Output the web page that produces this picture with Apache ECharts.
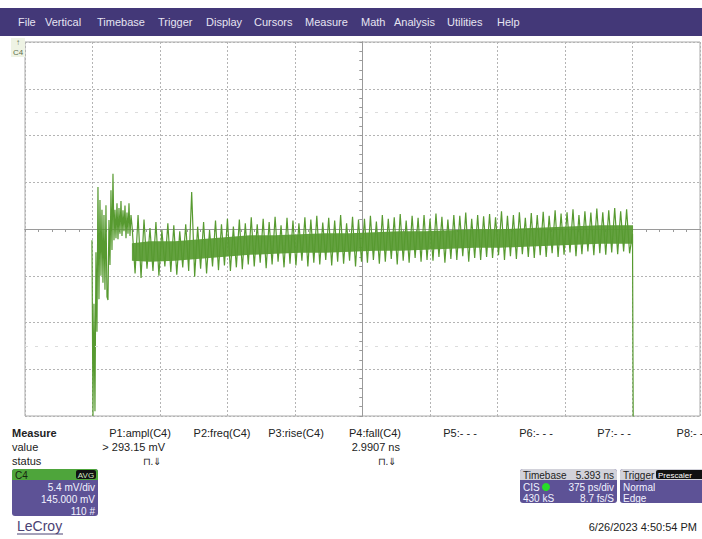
<!DOCTYPE html>
<html>
<head>
<meta charset="utf-8">
<title>LeCroy C4</title>
<script src="https://cdn.jsdelivr.net/npm/echarts@6/dist/echarts.min.js"></script>
<style>
  html, body { margin: 0; padding: 0; background: #fff; }
  #scope { width: 702px; height: 539px; }
</style>
</head>
<body>
<div id="scope"></div>
<script>
// menu bar
const menuItems = ['File', 'Vertical', 'Timebase', 'Trigger', 'Display', 'Cursors', 'Measure', 'Math', 'Analysis', 'Utilities', 'Help'];
const menuX = [18, 45, 97, 158, 206, 254, 305, 361, 394, 447, 497];

// measurement table
const measureCols = ['P1:ampl(C4)', 'P2:freq(C4)', 'P3:rise(C4)', 'P4:fall(C4)', 'P5:- - -', 'P6:- - -', 'P7:- - -', 'P8:- -'];
const measureColX = [140, 222, 296, 375, 460, 536, 614, 690];
const measureValues = ['> 293.15 mV', '', '', '2.9907 ns', '', '', '', ''];

// time in ps from screen centre (375 ps/div), level in divisions (5.4 mV/div)
// start-up transient, one sample per ~5.56 ps
const transientStart = -1503;
const transientStep = 5.56;
const transient = [-0.24, -4.0, -1.6, -3.9, -0.5, -2.2, 0.9, -1.5, 0.62, -1.0,
  0.41, -1.15, 0.3, -1.3, 0.51, -1.45, -1.52, 0.19, -0.77, 0.83,
  -0.45, 1.18, -0.24, 0.41, -0.2, 0.55, -0.22, 0.45, -0.1, 0.6,
  -0.15, 0.4, -0.05, 0.5, -0.2, 0.35, -0.1, 0.55, -0.15, 0.3];

// ringing part: one peak and one trough per period
const ringStart = -1280;
const ringPeriod = 33.1;
const peaks = [0.05, 0.30, 0.20, 0.02, 0.15, -0.02, 0.12, 0.08, -0.05, 0.10,
  0.79,
  0.05, 0.15, -0.02, 0.18, 0.10, 0.22, 0.05, 0.20, 0.12,
  0.25, 0.10, 0.22, 0.15, 0.26, 0.08, 0.24, 0.18, 0.12, 0.25,
  0.20, 0.28, 0.14, 0.24, 0.18, 0.30, 0.12, 0.26, 0.20, 0.22,
  0.28, 0.16, 0.30, 0.22, 0.25, 0.32, 0.18, 0.28, 0.24, 0.30,
  0.22, 0.33, 0.26, 0.20, 0.30, 0.28, 0.35, 0.22, 0.30, 0.27,
  0.32, 0.25, 0.38, 0.28, 0.30, 0.36, 0.24, 0.34, 0.30, 0.37,
  0.28, 0.40, 0.33, 0.36, 0.42, 0.30, 0.38, 0.35, 0.44, 0.36,
  0.40, 0.45, 0.38, 0.42];
const troughs = [-0.95, -1.05, -0.85, -0.90, -1.00, -0.80, -0.92, -0.98, -0.82, -0.90,
  -1.02,
  -0.85, -0.95, -0.80, -0.88, -0.78, -0.90, -0.82, -0.86, -0.76,
  -0.80, -0.72, -0.84, -0.76, -0.70, -0.82, -0.74, -0.78, -0.68, -0.80,
  -0.72, -0.76, -0.66, -0.78, -0.70, -0.74, -0.68, -0.80, -0.70, -0.72,
  -0.66, -0.74, -0.70, -0.64, -0.76, -0.68, -0.72, -0.62, -0.70, -0.66,
  -0.68, -0.60, -0.72, -0.64, -0.66, -0.58, -0.70, -0.62, -0.66, -0.60,
  -0.62, -0.56, -0.66, -0.58, -0.64, -0.54, -0.60, -0.62, -0.56, -0.60,
  -0.52, -0.60, -0.55, -0.50, -0.58, -0.54, -0.48, -0.56, -0.52, -0.55,
  -0.50, -0.54, -0.48, -0.52];
const endDrop = [[1500, -0.1], [1504, -4.2]];

// dense core of the trace band
const coreTimes = [-1281, -1181, -1042, -903, -764, -625, -486, -347, -208, -69, 69,
  208, 347, 486, 625, 764, 903, 1042, 1181, 1319, 1458, 1503];
const coreTop = [-0.305, -0.263, -0.263, -0.22, -0.177, -0.134, -0.134, -0.113, -0.091, -0.091, -0.07,
  -0.049, -0.049, -0.027, -0.006, -0.006, 0.016, 0.037, 0.058, 0.08, 0.08, 0.08];
const coreBottom = [-0.68, -0.70, -0.68, -0.637, -0.594, -0.552, -0.53, -0.51, -0.51, -0.488, -0.466,
  -0.466, -0.445, -0.423, -0.40, -0.40, -0.38, -0.36, -0.338, -0.316, -0.316, -0.316];

const traceColor = '#579a30';
const boxPurple = '#5d5296';
const font = '"Liberation Sans", Arial, sans-serif';

// trace points
let trace = [];
transient.forEach((v, i) => trace.push([transientStart + i * transientStep, v]));
peaks.forEach((p, i) => {
  trace.push([ringStart + i * ringPeriod, p]);
  trace.push([ringStart + i * ringPeriod + ringPeriod / 2, troughs[i]]);
});
trace = trace.concat(endDrop);

function txt(x, y, text, opt) {
  return {
    type: 'text', x: x, y: y, silent: true,
    style: Object.assign({
      text: text, font: '11px ' + font, fill: '#222',
      textAlign: 'left', textVerticalAlign: 'middle'
    }, opt || {})
  };
}

let graphics = [];
// menu bar
graphics.push({ type: 'rect', shape: { x: 0, y: 8, width: 702, height: 28 }, style: { fill: '#433878' } });
menuItems.forEach((m, i) => graphics.push(txt(menuX[i], 22, m, { fill: '#e6e4f2' })));

// channel marker
graphics.push({ type: 'rect', shape: { x: 11, y: 38, width: 14, height: 19 }, style: { fill: '#eef3e4' } });
graphics.push(txt(18, 42.5, '↑', { fill: '#5d6f4d', font: '8px ' + font, textAlign: 'center' }));
graphics.push(txt(18, 52, 'C4', { fill: '#5d6f4d', font: '8px ' + font, textAlign: 'center' }));

// measure table
graphics.push(txt(12, 433, 'Measure', { font: 'bold 11px ' + font }));
graphics.push(txt(12, 447, 'value'));
graphics.push(txt(12, 461, 'status'));
measureCols.forEach((c, i) => {
  graphics.push(txt(measureColX[i], 433, c, { textAlign: 'center' }));
  if (measureValues[i]) {
    graphics.push(txt(measureColX[i] + 25, 447, measureValues[i], { textAlign: 'right' }));
    graphics.push(txt(measureColX[i] + 12, 461, '⊓.⇓', { textAlign: 'center', font: '10px ' + font }));
  }
});

// C4 box
graphics.push({ type: 'rect', shape: { x: 12, y: 469, width: 86, height: 47, r: 3 }, style: { fill: boxPurple } });
graphics.push({ type: 'rect', shape: { x: 12, y: 469, width: 86, height: 11, r: [3, 3, 0, 0] }, style: { fill: '#4ea53b' } });
graphics.push(txt(15, 475, 'C4', { fill: '#16260e', font: '10px ' + font }));
graphics.push({ type: 'rect', shape: { x: 76, y: 470, width: 20, height: 9, r: 2 }, style: { fill: '#111' } });
graphics.push(txt(86, 475, 'AVG', { fill: '#cfe8c0', font: '8px ' + font, textAlign: 'center' }));
graphics.push(txt(95, 487, '5.4 mV/div', { fill: '#f2f2ff', font: '10px ' + font, textAlign: 'right' }));
graphics.push(txt(95, 499, '145.000 mV', { fill: '#f2f2ff', font: '10px ' + font, textAlign: 'right' }));
graphics.push(txt(95, 511, '110 #', { fill: '#f2f2ff', font: '10px ' + font, textAlign: 'right' }));

// Timebase box
graphics.push({ type: 'rect', shape: { x: 520, y: 469, width: 97, height: 34, r: 3 }, style: { fill: boxPurple } });
graphics.push({ type: 'rect', shape: { x: 520, y: 469, width: 97, height: 11, r: [3, 3, 0, 0] }, style: { fill: '#d2d2da' } });
graphics.push(txt(523, 475, 'Timebase', { font: '10px ' + font }));
graphics.push(txt(614, 475, '5.393 ns', { font: '10px ' + font, textAlign: 'right' }));
graphics.push(txt(523, 487, 'CIS', { fill: '#f2f2ff', font: '10px ' + font }));
graphics.push({ type: 'circle', shape: { cx: 546, cy: 487, r: 4 }, style: { fill: '#28dd28' } });
graphics.push(txt(614, 487, '375 ps/div', { fill: '#f2f2ff', font: '10px ' + font, textAlign: 'right' }));
graphics.push(txt(523, 498, '430 kS', { fill: '#f2f2ff', font: '10px ' + font }));
graphics.push(txt(614, 498, '8.7 fs/S', { fill: '#f2f2ff', font: '10px ' + font, textAlign: 'right' }));

// Trigger box
graphics.push({ type: 'rect', shape: { x: 620, y: 469, width: 86, height: 34, r: 3 }, style: { fill: boxPurple } });
graphics.push({ type: 'rect', shape: { x: 620, y: 469, width: 86, height: 11, r: [3, 3, 0, 0] }, style: { fill: '#d2d2da' } });
graphics.push(txt(623, 475, 'Trigger', { font: '10px ' + font }));
graphics.push({ type: 'rect', shape: { x: 656, y: 470, width: 48, height: 9, r: 2 }, style: { fill: '#111' } });
graphics.push(txt(658, 475, 'Prescaler', { fill: '#fff', font: '8px ' + font }));
graphics.push(txt(623, 487, 'Normal', { fill: '#f2f2ff', font: '10px ' + font }));
graphics.push(txt(623, 498, 'Edge', { fill: '#f2f2ff', font: '10px ' + font }));

// logo + date
graphics.push(txt(17, 526, 'LeCroy', { fill: '#4a4274', font: '14px ' + font }));
graphics.push({ type: 'line', shape: { x1: 17, y1: 534, x2: 63, y2: 534 }, style: { stroke: '#4a4274', lineWidth: 1 } });
graphics.push(txt(697, 527, '6/26/2023 4:50:54 PM', { textAlign: 'right' }));

const gridLine = { show: true, lineStyle: { color: '#b4b4b4', type: [2, 2], width: 1 } };
const centreAxis = (inside) => ({
  axisLine: { show: true, onZero: true, lineStyle: { color: '#9a9a9a', width: 1 } },
  axisTick: { show: true, inside: inside, length: 3, lineStyle: { color: '#9a9a9a' } },
  minorTick: { show: true, splitNumber: 5, length: 3, lineStyle: { color: '#9a9a9a' } },
  axisLabel: { show: false }
});

let myCharts = echarts.init(document.getElementById('scope'), null, { renderer: 'svg' });
let option = {
  backgroundColor: '#fff',
  animation: false,
  grid: { left: 25, top: 42, width: 675, height: 374, show: true, borderColor: '#aaaaaa', borderWidth: 1 },
  xAxis: [
    Object.assign({ type: 'value', min: -1875, max: 1875, interval: 375, splitLine: gridLine }, centreAxis(false)),
    Object.assign({ type: 'value', min: -1875, max: 1875, interval: 375, position: 'top', splitLine: { show: false } }, centreAxis(true))
  ],
  yAxis: [
    Object.assign({ type: 'value', min: -4, max: 4, interval: 1, splitLine: gridLine }, centreAxis(false)),
    Object.assign({ type: 'value', min: -4, max: 4, interval: 1, position: 'right', splitLine: { show: false } }, centreAxis(true))
  ],
  series: [
    {
      type: 'custom',
      clip: true,
      data: [[0, 0]],
      z: 2,
      renderItem: (params, api) => {
        let pts = [];
        coreTimes.forEach((t, i) => pts.push(api.coord([t, coreTop[i]])));
        for (let i = coreTimes.length - 1; i >= 0; i--) pts.push(api.coord([coreTimes[i], coreBottom[i]]));
        return { type: 'polygon', shape: { points: pts }, style: { fill: traceColor, opacity: 0.92 } };
      }
    },
    {
      type: 'line',
      data: trace,
      showSymbol: false,
      symbol: 'none',
      clip: true,
      z: 3,
      lineStyle: { color: traceColor, width: 1.2 },
      markLine: {
        silent: true,
        symbol: 'none',
        label: { show: false },
        lineStyle: { color: '#dcdcdc', type: [3, 7], width: 1 },
        data: [{ yAxis: 2.5 }, { yAxis: -2.5 }]
      }
    }
  ],
  graphic: graphics
};
myCharts.setOption(option);
</script>
</body>
</html>
